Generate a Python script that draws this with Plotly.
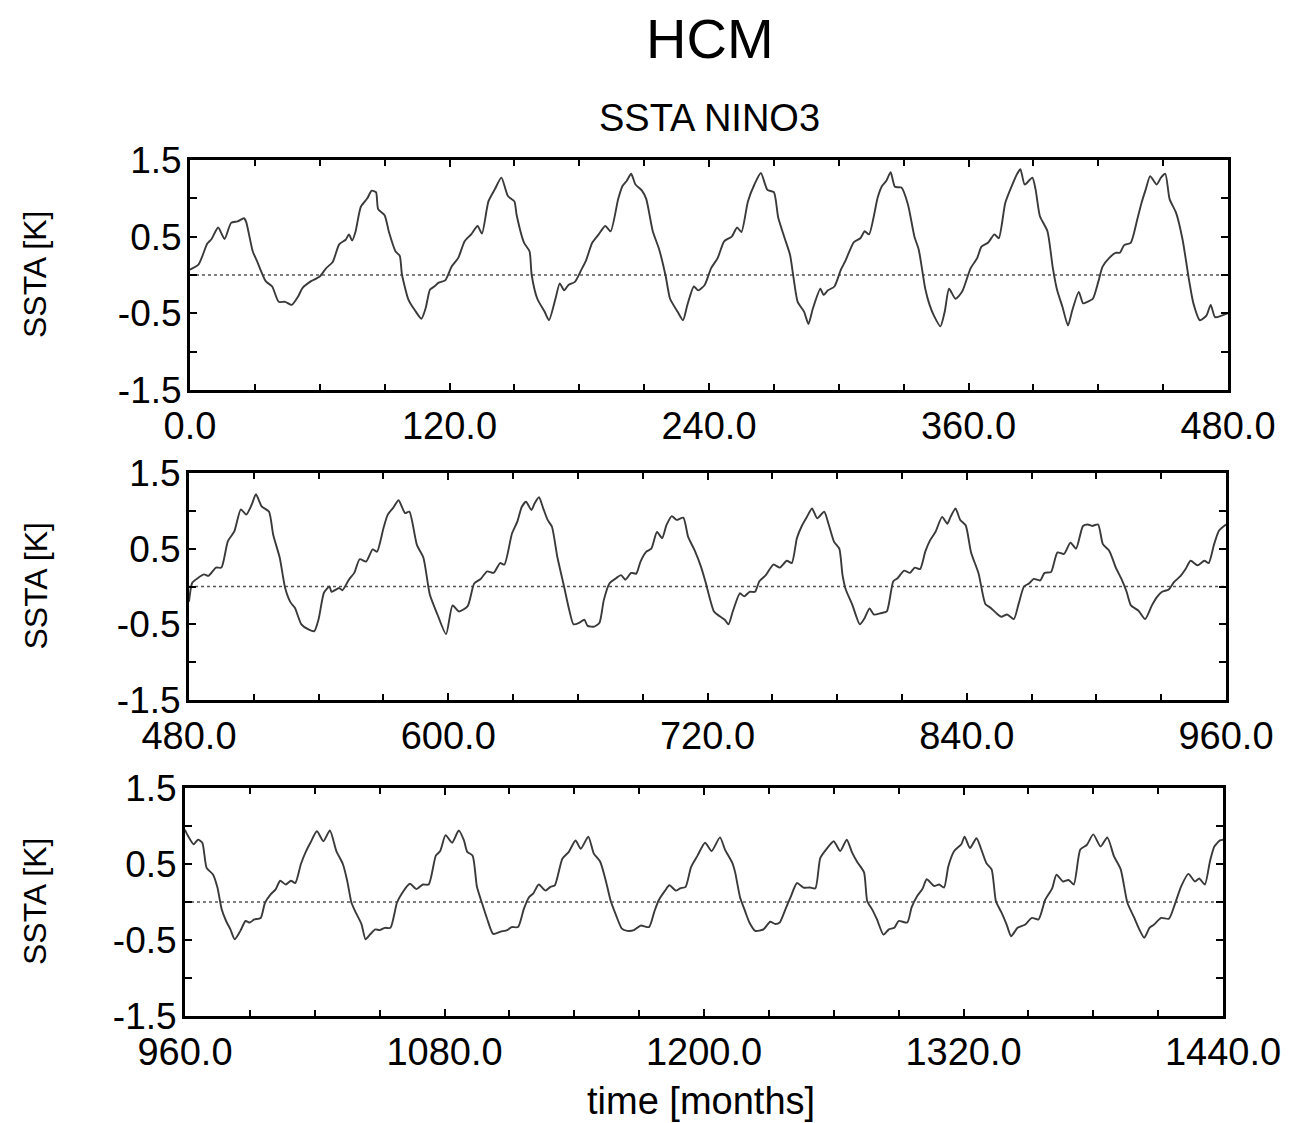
import plotly.graph_objects as go

# ---------------- data ----------------
t1 = [0, 4, 8, 10, 13, 16, 19, 22, 25, 26, 29, 31, 35, 38, 41, 44, 47, 50, 52, 56, 60, 63, 66, 69, 72, 73.5, 75, 76.5,
      79, 82, 84, 86, 87, 90, 92, 95, 97, 98, 101, 104, 107, 109, 111, 113, 115, 118,
      121, 124, 127, 130, 133, 135, 138, 141, 144, 147, 150, 151, 154.5, 157, 158, 160.6, 164, 166, 169, 171, 173, 175,
      178, 181, 183, 186, 189, 192, 194.5, 198, 200, 202, 204, 206, 209, 211, 214, 217, 220, 222, 225.5, 228, 230, 233,
      235, 238,
      241, 244, 247, 250.5, 253, 255, 258, 261, 264, 267, 270, 272, 275, 277.5, 279, 281, 284, 286, 288, 291.5, 293, 295,
      298, 301, 303, 307, 310, 312, 314, 318, 320, 322, 324, 326, 329, 332, 335, 337, 340, 342, 344, 347, 349, 351, 354,
      357,
      361, 364, 366, 369, 372, 374, 377, 380, 382.5, 384, 386, 389.5, 391, 393, 396.5, 399, 401, 403.5, 406, 408, 411,
      413, 415, 417.5, 420, 422, 425, 428, 430, 432, 435, 438, 440, 442, 444, 447, 449, 451, 453, 456, 459, 462, 464,
      467, 470, 472, 474, 477, 480]
v1 = [0.07, 0.14, 0.41, 0.47, 0.62, 0.47, 0.68, 0.70, 0.74, 0.69, 0.31, 0.18, -0.08, -0.15, -0.35, -0.35, -0.39, -0.28,
      -0.17, -0.08, -0.02, 0.09, 0.17, 0.40, 0.46, 0.53, 0.45, 0.56,
      0.89, 1.00, 1.10, 1.08, 0.86, 0.78, 0.56, 0.31, 0.25, 0.01, -0.32, -0.46, -0.57, -0.43, -0.19, -0.15, -0.10, -0.07,
      0.11, 0.22, 0.44, 0.53, 0.64, 0.54, 0.96, 1.12, 1.27, 1.03, 0.96, 0.79, 0.42, 0.31, 0.0, -0.31, -0.48, -0.59, -0.31,
      -0.11, -0.20, -0.13,
      -0.09, 0.07, 0.18, 0.42, 0.53, 0.64, 0.57, 0.99, 1.16, 1.23, 1.32, 1.18, 1.10, 0.99, 0.57, 0.33, -0.02, -0.31,
      -0.48, -0.59, -0.39, -0.15,
      -0.20, -0.13,
      0.09, 0.22, 0.44, 0.50, 0.62, 0.56, 0.96, 1.18, 1.33, 1.11, 1.08, 0.75, 0.48, 0.26, -0.02, -0.35, -0.48, -0.64,
      -0.44, -0.18, -0.26, -0.20,
      -0.15, 0.07, 0.18, 0.43, 0.48, 0.57, 0.53, 1.01, 1.16, 1.23, 1.34, 1.15, 1.14, 0.92, 0.50, 0.33, -0.18, -0.39,
      -0.53, -0.67, -0.48, -0.18, -0.31,
      -0.22,
      0.09, 0.22, 0.37, 0.42, 0.53, 0.48, 0.94, 1.16, 1.32, 1.38, 1.18, 1.27, 1.12, 0.77, 0.57, 0.09, -0.20, -0.42, -0.66,
      -0.46, -0.22,
      -0.37, -0.35, -0.31, -0.09, 0.11, 0.22, 0.29, 0.29, 0.39, 0.42, 0.72, 0.94, 1.12, 1.29, 1.18, 1.27, 1.32, 0.99,
      0.81, 0.46, -0.07, -0.37,
      -0.59, -0.53, -0.39, -0.55, -0.53, -0.50]

t2 = [480, 481.5, 484, 487, 489, 492.5, 495, 498, 501, 504, 506.5, 509, 511, 513.6, 517, 519, 522, 524.5, 527, 529, 532,
      535.5, 538, 540, 542.5, 545, 546, 549.5, 551, 554, 556.5, 559, 562, 565, 567, 570, 572, 574.5, 577, 580, 582,
      585.5, 588.5, 591.5, 595, 599,
      602, 605, 609, 612, 615, 618, 621, 624, 626, 629.5, 632, 634, 636, 638.5, 640, 642, 644, 646, 648, 650.5, 653.6,
      656, 658, 660.6, 663, 664.5, 667.6, 670, 672, 674.6, 677.7, 680, 682, 684.7, 687, 689, 691.7, 694, 696.6, 699,
      701, 703.5, 705.7, 708.8, 711, 714, 717, 719,
      723, 725.5, 728, 729.7, 731.7, 735, 737, 739.5, 742, 744, 747, 750.5, 753.5, 756.7, 759, 761.4, 763.8, 766, 768.4,
      770.8, 774, 776, 778.6, 781, 782.5, 784, 787, 790.5, 792.7, 795, 797, 800.5, 803, 806, 808, 811, 813.7, 816,
      818.4, 820.8, 823, 825.5, 828.6, 831, 832.5, 834.8, 837, 839.5,
      842, 845.5, 848.6, 851, 854, 856, 858.7, 861.8, 864, 866.5, 868.8, 871, 874, 876, 879, 882, 885, 888, 890.6,
      893.8, 896, 898, 900.8, 903, 906, 909, 911.6, 914, 916, 919.5, 922.6, 925.7, 928, 930.4, 933.5, 936, 939, 941.3,
      943.6, 946.8, 950, 952, 954.5, 956.8, 960]
v2 = [-0.20, 0.05, 0.11, 0.16, 0.14, 0.25, 0.25, 0.60, 0.73, 1.02, 0.95, 1.08, 1.22, 1.06, 0.99, 0.68, 0.38, -0.02,
      -0.21, -0.28, -0.50,
      -0.57, -0.59, -0.43, -0.08, 0.0, -0.07, -0.02, -0.05, 0.09, 0.18, 0.36, 0.33, 0.49, 0.46, 0.77, 0.95, 1.04, 1.14,
      0.97, 0.99,
      0.55, 0.38, -0.11, -0.37, -0.63,
      -0.25, -0.33, -0.26, 0.04, 0.10, 0.20, 0.18, 0.31, 0.29, 0.70, 0.86, 1.05, 1.12, 1.01, 1.10, 1.18, 1.03, 0.88,
      0.79, 0.39, 0.0,
      -0.31, -0.50, -0.48, -0.44, -0.52, -0.53, -0.48, -0.18, 0.04, 0.11, 0.15, 0.09, 0.18, 0.17, 0.33, 0.46, 0.50,
      0.72, 0.64,
      0.81, 0.93, 0.88, 0.91, 0.66, 0.48, 0.26, 0.07,
      -0.33, -0.39, -0.44, -0.50, -0.33, -0.09, -0.13, -0.07, -0.07, 0.07, 0.15, 0.29, 0.25, 0.34, 0.31, 0.64, 0.81,
      0.92, 1.03,
      0.90, 0.99, 0.83, 0.59, 0.50, 0.15, -0.04, -0.24, -0.50, -0.42, -0.29, -0.37, -0.35, -0.33, 0.07, 0.11, 0.21,
      0.18, 0.25,
      0.23, 0.46, 0.61, 0.72, 0.92, 0.83, 0.92, 1.03, 0.88, 0.81,
      0.45, 0.17, -0.23, -0.28, -0.36, -0.40, -0.37, -0.43, -0.23, 0.0, 0.04, 0.10, 0.08, 0.18, 0.19, 0.45, 0.43, 0.58,
      0.50,
      0.80, 0.82, 0.80, 0.82, 0.56, 0.47, 0.25, 0.10, -0.07, -0.25, -0.32, -0.43, -0.25, -0.14, -0.07, -0.04, 0.06,
      0.14, 0.23,
      0.34, 0.28, 0.34, 0.31, 0.56, 0.74, 0.82]

t3 = [960, 961, 964, 966, 968, 970, 973, 975, 977, 979, 981, 983, 985.6, 988, 990, 992, 995, 997, 999.6, 1002, 1004,
      1006.6, 1009, 1011, 1013.6, 1016, 1018, 1021, 1024, 1027, 1030, 1033, 1035, 1037, 1039, 1041.6, 1043.5, 1045.5,
      1048, 1050, 1052.5, 1055, 1058, 1060, 1064, 1067, 1070, 1072.7, 1076, 1078,
      1080.5, 1083.5, 1086.6, 1089, 1090.5, 1093, 1095, 1097.4, 1099.7, 1102.5, 1106, 1109, 1111, 1114, 1116.7, 1119,
      1121, 1123.6, 1126.7, 1129, 1131, 1134.5, 1137.5, 1140.6, 1143, 1146.5, 1149, 1152, 1154.5, 1156.8, 1159, 1162,
      1164.5, 1167.6, 1170.7, 1174.6, 1177, 1179, 1182, 1184, 1187, 1189, 1191.5, 1194, 1197,
      1200.5, 1203.5, 1207.4, 1209.7, 1213, 1214.4, 1216.7, 1219, 1221, 1223.7, 1227.5, 1230.6, 1233, 1235, 1237.6,
      1240, 1243, 1246, 1249, 1251.5, 1253.8, 1257, 1260, 1263, 1266, 1268.5, 1271, 1274, 1275.5, 1277.8, 1280, 1283,
      1285.5, 1288, 1290, 1294, 1296, 1298.6, 1301, 1303, 1306.4, 1308.7, 1311, 1313, 1315.7, 1319,
      1320.5, 1323, 1326, 1328, 1330.6, 1333, 1335, 1337.6, 1340, 1342, 1345, 1348.4, 1351.6, 1354.7, 1357.8, 1361,
      1363, 1366, 1368.6, 1371, 1374, 1377, 1380, 1383.4, 1386.5, 1389.6, 1392.7, 1395.8, 1399, 1401.3, 1403.6, 1406,
      1408, 1411.4, 1415, 1417.6, 1420.7, 1424, 1427, 1429, 1431.6, 1434, 1436, 1438.6, 1440]
v3 = [0.95, 0.89, 0.76, 0.82, 0.78, 0.45, 0.36, 0.19, -0.10, -0.25, -0.36, -0.49, -0.38, -0.25, -0.27, -0.23, -0.21,
      -0.01, 0.10, 0.17, 0.28,
      0.23, 0.28, 0.25, 0.50, 0.67, 0.78, 0.93, 0.80, 0.94, 0.67, 0.50, 0.28, -0.01, -0.14, -0.29, -0.49, -0.43,
      -0.36, -0.37, -0.34, -0.34, -0.01, 0.10, 0.24, 0.17, 0.23, 0.23, 0.61, 0.67,
      0.88, 0.78, 0.94, 0.81, 0.66, 0.61, 0.20, -0.02, -0.22, -0.42, -0.39, -0.37, -0.33, -0.33, -0.09, 0.06,
      0.11, 0.23, 0.15, 0.20, 0.22, 0.57, 0.66, 0.81, 0.70, 0.86, 0.64, 0.53, 0.29, 0.02, -0.15, -0.35,
      -0.38, -0.37, -0.31, -0.33, -0.13, 0.02, 0.15, 0.22, 0.15, 0.18, 0.20, 0.46, 0.61,
      0.78, 0.67, 0.85, 0.69, 0.52, 0.39, 0.06, -0.12, -0.27, -0.38, -0.36, -0.26, -0.29, -0.27, -0.10,
      0.06, 0.25, 0.19, 0.19, 0.18, 0.58, 0.71, 0.80, 0.67, 0.82, 0.65, 0.52, 0.39, 0.01, -0.10, -0.23, -0.43,
      -0.36, -0.34, -0.25, -0.27, -0.07, 0.08, 0.17, 0.30, 0.21, 0.23, 0.19, 0.47, 0.67, 0.76,
      0.86, 0.71, 0.84, 0.71, 0.51, 0.43, 0.01, -0.14, -0.30, -0.45, -0.34, -0.30, -0.21, -0.23, 0.03, 0.18,
      0.36, 0.27, 0.29, 0.23, 0.69, 0.75, 0.89, 0.73, 0.85, 0.60, 0.43, -0.01, -0.21, -0.36, -0.47, -0.34,
      -0.30, -0.21, -0.22, -0.04, 0.21, 0.37, 0.27, 0.31, 0.23, 0.54, 0.73, 0.81, 0.82]

x_ranges = [[0, 480], [480, 960], [960, 1440]]
y_tickvals = [-1.5, -1.0, -0.5, 0.0, 0.5, 1.0, 1.5]
y_ticktext = ["-1.5", "", "-0.5", "", "0.5", "", "1.5"]

title_text = "HCM"
subtitle_text = "SSTA NINO3"
ylabel_text = "SSTA [K]"
xlabel_text = "time [months]"

# ---------------- figure ----------------
# the page body has an 8 px default margin, so the figure is 8 px smaller
# and all target pixel positions (taken from the screen) are shifted by 8 px
OFF = 8
W, H = 1292 - OFF, 1123 - OFF
FONT = "Liberation Sans, Arial, Helvetica, sans-serif"


def px(x):
    return (x - OFF) / W


def py(y):
    return 1 - (y - OFF) / H


# screen-pixel boxes of the three panels (left, right, top, bottom)
boxes = [(190, 1228, 160, 390), (189, 1226, 473, 700), (185, 1223, 788, 1016)]

fig = go.Figure()
series = [(t1, v1), (t2, v2), (t3, v3)]
for i, (t, v) in enumerate(series):
    sx = "" if i == 0 else str(i + 1)
    fig.add_trace(go.Scatter(x=t, y=v, mode="lines", xaxis="x" + sx, yaxis="y" + sx,
                             line=dict(color="#3a3a3a", width=1.9, shape="spline", smoothing=0.6),
                             showlegend=False, hoverinfo="x+y"))

for i, (l, r, tp, bt) in enumerate(boxes):
    sx = "" if i == 0 else str(i + 1)
    xa = dict(domain=[px(l), px(r)], range=x_ranges[i], anchor="y" + sx, automargin=False,
              tickmode="linear", tick0=x_ranges[i][0], dtick=120, tickformat=".1f",
              ticks="inside", ticklen=7, tickwidth=1.5, tickcolor="black",
              minor=dict(dtick=30, ticks="inside", ticklen=6, tickwidth=1.5, tickcolor="black"),
              showline=True, linewidth=3, linecolor="black", mirror="ticks",
              showgrid=False, zeroline=False,
              tickfont=dict(family=FONT, size=38, color="black"), ticklabelstandoff=0)
    ya = dict(domain=[py(bt), py(tp)], range=[-1.5, 1.5], anchor="x" + sx, automargin=False,
              tickmode="array", tickvals=y_tickvals, ticktext=y_ticktext,
              ticks="inside", ticklen=7, tickwidth=1.5, tickcolor="black",
              showline=True, linewidth=3, linecolor="black", mirror="ticks",
              showgrid=False, zeroline=False,
              tickfont=dict(family=FONT, size=37, color="black"), ticklabelstandoff=-2)
    fig.update_layout(**{"xaxis" + sx: xa, "yaxis" + sx: ya})
    # dotted zero reference line across the panel
    fig.add_shape(type="line", xref="x" + sx + " domain", yref="y" + sx, x0=0, x1=1, y0=0, y1=0,
                  line=dict(color="#555555", width=1.6, dash="dot"), layer="below")
    # y axis title
    fig.add_annotation(text=ylabel_text, xref="paper", yref="paper", x=px(35), y=py((tp + bt) / 2),
                       textangle=-90, showarrow=False, xanchor="center", yanchor="middle",
                       font=dict(family=FONT, size=32, color="black"))

fig.add_annotation(text=title_text, xref="paper", yref="paper", x=px(710), y=py(38.5),
                   showarrow=False, xanchor="center", yanchor="middle",
                   font=dict(family=FONT, size=56, color="black"))
fig.add_annotation(text=subtitle_text, xref="paper", yref="paper", x=px(709), y=py(118),
                   showarrow=False, xanchor="center", yanchor="middle",
                   font=dict(family=FONT, size=38, color="black"))
fig.add_annotation(text=xlabel_text, xref="paper", yref="paper", x=px(701), y=py(1101),
                   showarrow=False, xanchor="center", yanchor="middle",
                   font=dict(family=FONT, size=38, color="black"))

fig.update_layout(width=W, height=H, margin=dict(l=0, r=0, t=0, b=0, autoexpand=False),
                  paper_bgcolor="white", plot_bgcolor="white", showlegend=False)

fig.write_html("out.html")
